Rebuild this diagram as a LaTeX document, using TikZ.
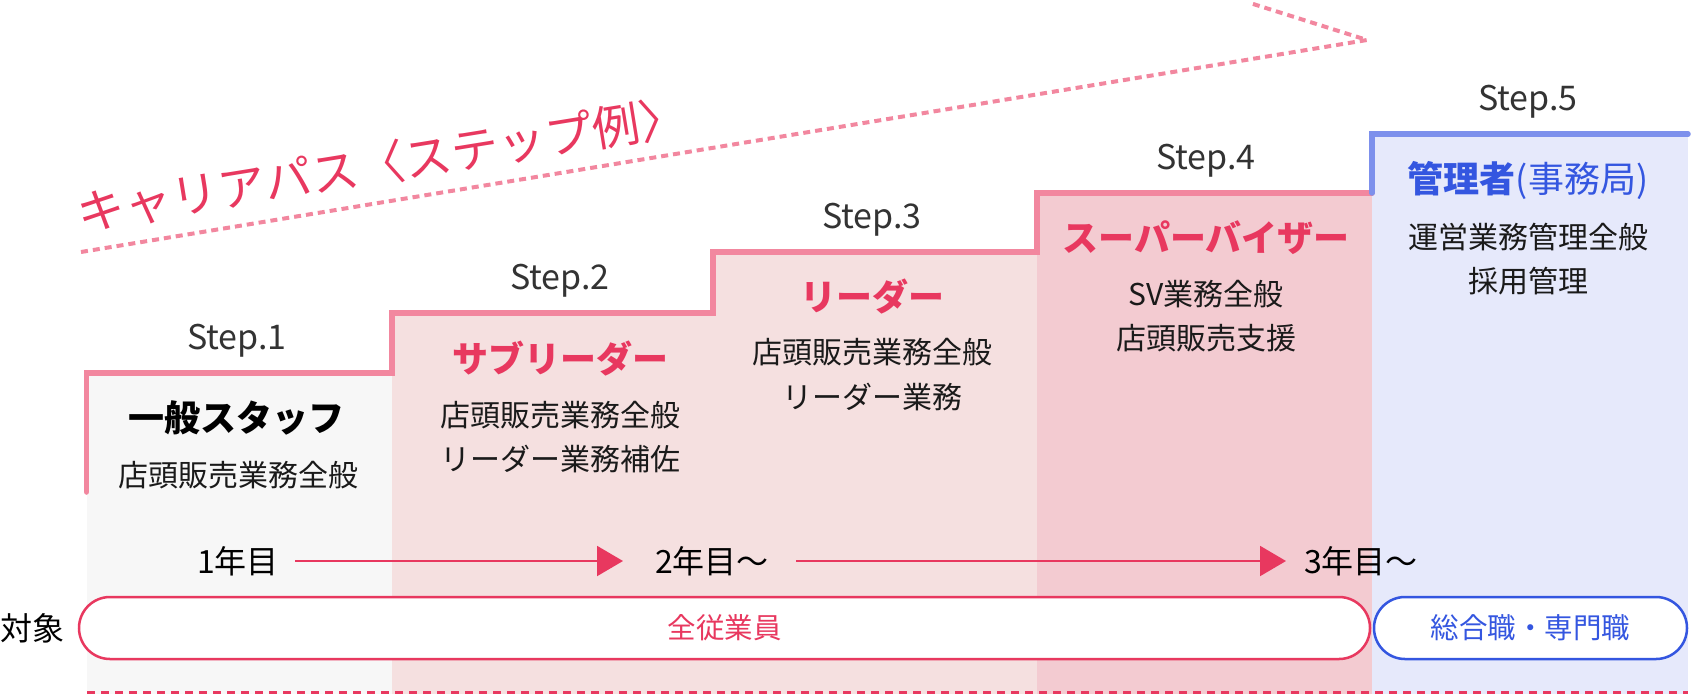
\documentclass[tikz,border=0pt]{standalone}
\usepackage{fontspec}
\setmainfont{Noto Sans CJK JP}
\usetikzlibrary{arrows.meta}
\definecolor{pmain}{HTML}{E8385F}
\definecolor{pline}{HTML}{F2879F}
\definecolor{bline}{HTML}{7D90EC}
\definecolor{bmain}{HTML}{3456E0}
\definecolor{cone}{HTML}{F7F7F7}
\definecolor{ctwo}{HTML}{F5E0E0}
\definecolor{cfour}{HTML}{F3CBD1}
\definecolor{cfive}{HTML}{E6E9FB}
\definecolor{stepgray}{HTML}{333333}
\definecolor{bodyblack}{HTML}{1A1A1A}
\newcommand{\fsz}[1]{\fontsize{#1pt}{#1pt}\selectfont}
\begin{document}
\begin{tikzpicture}[x=1pt,y=-1pt,
  steplabel/.style={anchor=base, inner sep=0pt, text=stepgray, font=\fsz{34}},
  rolebold/.style={inner sep=0pt, text=pmain, font=\fsz{36}\bfseries},
  bodytext/.style={inner sep=0pt, text=bodyblack, font=\fsz{30}},
  yeartext/.style={inner sep=0pt, text=black, font=\fsz{32}},
  stairpink/.style={draw=pline, line width=5.5pt, line cap=round, line join=miter},
  stairblue/.style={draw=bline, line width=5.5pt, line cap=round, line join=miter},
  yeararrow/.style={draw=pmain, line width=2pt, -{Triangle[length=26pt,width=30pt]}},
  pillbox/.style={rectangle, rounded corners=31pt, line width=2.5pt, fill=white, minimum height=62pt, inner sep=0pt, font=\fsz{28.5}},
  titledots/.style={draw=pline, line width=4pt, dash pattern=on 7pt off 5pt},
  bottomdash/.style={draw=pmain, line width=3pt, dash pattern=on 8pt off 6pt}
]
\useasboundingbox (0,0) rectangle (1691,694);

% column backgrounds
\fill[cone]  (87,373)  rectangle (392,694);
\fill[ctwo]  (392,313) rectangle (713,694);
\fill[ctwo]  (713,252) rectangle (1037,694);
\fill[cfour] (1037,193) rectangle (1372,694);
\fill[cfive] (1372,134) rectangle (1688,694);

% stair lines
\draw[stairpink] (86.5,492) -- (86.5,373) -- (392,373) -- (392,313) -- (713,313) -- (713,252) -- (1037,252) -- (1037,193) -- (1372,193);
\draw[stairblue] (1372,193) -- (1372,134) -- (1688,134);

% bottom dashed line
\coordinate (dashL) at (87,692);
\coordinate (dashR) at (1688,692);
\draw[bottomdash] (dashL) -- (dashR);

% title and dotted arrow
\coordinate (arrowtail) at (81,252);
\coordinate (arrowtip) at (1367,40);
\coordinate (arrowarm) at (1250,3);
\draw[titledots] (arrowtail) -- (arrowtip) -- (arrowarm);
\node[inner sep=0pt, text=pmain, font=\fsz{47.5}, rotate=9.2] (title) at (382,164) {キャリアパス〈ステップ例〉};

% step labels
\node[steplabel] (s1) at (237,349) {Step.1};
\node[steplabel] (s2) at (560,289) {Step.2};
\node[steplabel] (s3) at (872,228) {Step.3};
\node[steplabel] (s4) at (1206,169) {Step.4};
\node[steplabel] (s5) at (1528,110) {Step.5};

% roles
\node[rolebold, text=black] (r1) at (236,418) {一般スタッフ};
\node[rolebold] (r2) at (560,359) {サブリーダー};
\node[rolebold] (r3) at (872,297) {リーダー};
\node[rolebold] (r4) at (1206,238) {スーパーバイザー};
\node[inner sep=0pt, text=bmain, font=\fsz{36}] (r5) at (1528,180) {{\bfseries 管理者}(事務局)};

% duties
\node[bodytext] (d1a) at (238,475) {店頭販売業務全般};
\node[bodytext] (d2a) at (560,415) {店頭販売業務全般};
\node[bodytext] (d2b) at (560,459) {リーダー業務補佐};
\node[bodytext] (d3a) at (872,352) {店頭販売業務全般};
\node[bodytext] (d3b) at (872,397) {リーダー業務};
\node[bodytext] (d4a) at (1206,294) {SV業務全般};
\node[bodytext] (d4b) at (1206,338) {店頭販売支援};
\node[bodytext] (d5a) at (1528,237) {運営業務管理全般};
\node[bodytext] (d5b) at (1528,281) {採用管理};

% years
\node[yeartext] (y1) at (238,561) {1年目};
\node[yeartext] (y2) at (712,561) {2年目〜};
\node[yeartext] (y3) at (1361,561) {3年目〜};
\coordinate (a1s) at (295,561);
\coordinate (a1e) at (623,561);
\coordinate (a2s) at (796,561);
\coordinate (a2e) at (1286,561);
\draw[yeararrow] (a1s) -- (a1e);
\draw[yeararrow] (a2s) -- (a2e);

% target
\node[yeartext] (target) at (33,628) {対象};
\node[pillbox, draw=pmain, text=pmain, minimum width=1291pt] (pill1) at (724.5,628) {全従業員};
\node[pillbox, draw=bmain, text=bmain, minimum width=313pt] (pill2) at (1530.5,628) {総合職・専門職};
\end{tikzpicture}
\end{document}
